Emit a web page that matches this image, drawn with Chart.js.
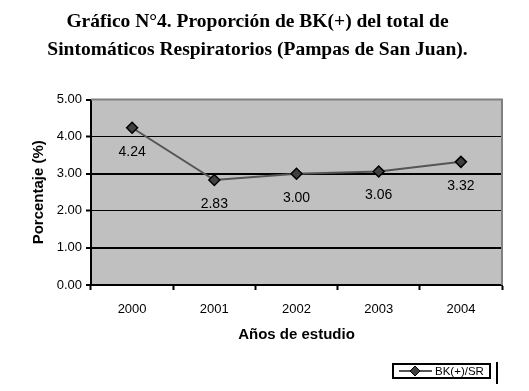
<!DOCTYPE html>
<html>
<head>
<meta charset="utf-8">
<script src="https://cdn.jsdelivr.net/npm/chart.js@4/dist/chart.umd.min.js"></script>
<style>
  html, body { margin: 0; padding: 0; background: #fff; }
  #wrap { width: 529px; height: 391px; }
</style>
</head>
<body>
<div id="wrap"><canvas id="grafico"></canvas></div>
<script>
// Datos
const anios = ['2000', '2001', '2002', '2003', '2004'];
const proporcion = [4.24, 2.83, 3.00, 3.06, 3.32];
const serieNombre = 'BK(+)/SR';
const tituloLineas = ['Gráfico N°4. Proporción de BK(+) del total de', 'Sintomáticos Respiratorios (Pampas de San Juan).'];

// fondo gris del área de trazado y borde superior/derecho
const fondoPlot = {
  id: 'fondoPlot',
  beforeDraw(chart) {
    const {ctx, chartArea: a} = chart;
    ctx.save();
    ctx.fillStyle = '#c0c0c0';
    ctx.fillRect(a.left, a.top, a.right - a.left, a.bottom - a.top);
    ctx.restore();
  },
  afterDatasetsDraw(chart) {
    const {ctx, chartArea: a} = chart;
    ctx.save();
    ctx.strokeStyle = '#808080';
    ctx.lineWidth = 2;
    ctx.beginPath();
    ctx.moveTo(a.left, a.top);
    ctx.lineTo(a.right, a.top);
    ctx.lineTo(a.right, a.bottom);
    ctx.stroke();
    ctx.restore();
  }
};

// etiquetas de valor debajo de cada punto
const etiquetas = {
  id: 'etiquetas',
  afterDatasetsDraw(chart) {
    const {ctx} = chart;
    const meta = chart.getDatasetMeta(0);
    ctx.save();
    ctx.font = '14px "Liberation Sans", Arial, sans-serif';
    ctx.fillStyle = '#000';
    ctx.textAlign = 'center';
    ctx.textBaseline = 'middle';
    meta.data.forEach((p, i) => {
      ctx.fillText(proporcion[i].toFixed(2), p.x, p.y + 24);
    });
    ctx.restore();
  }
};

// leyenda con recuadro (abajo a la derecha, como en el original)
const leyenda = {
  id: 'leyenda',
  afterDraw(chart) {
    const {ctx} = chart;
    const ds = chart.data.datasets[0];
    ctx.save();
    ctx.strokeStyle = '#000';
    ctx.lineWidth = 2;
    ctx.strokeRect(393, 364, 97, 14);
    ctx.beginPath();
    ctx.moveTo(497, 362);
    ctx.lineTo(497, 384);
    ctx.stroke();
    ctx.strokeStyle = ds.borderColor;
    ctx.beginPath();
    ctx.moveTo(399, 371);
    ctx.lineTo(432, 371);
    ctx.stroke();
    ctx.fillStyle = ds.pointBackgroundColor;
    ctx.strokeStyle = '#000';
    ctx.lineWidth = 1;
    ctx.beginPath();
    ctx.moveTo(415, 366);
    ctx.lineTo(420, 371);
    ctx.lineTo(415, 376);
    ctx.lineTo(410, 371);
    ctx.closePath();
    ctx.fill();
    ctx.stroke();
    ctx.font = '11.5px "Liberation Sans", Arial, sans-serif';
    ctx.fillStyle = '#000';
    ctx.textAlign = 'left';
    ctx.textBaseline = 'middle';
    ctx.fillText(ds.label, 435, 371.5);
    ctx.restore();
  }
};

const ctx = document.getElementById('grafico');

const grafico = new Chart(ctx, {
  type: 'line',
  data: {
    labels: anios,
    datasets: [
      {
        label: serieNombre,
        data: proporcion,
        borderColor: '#555555',
        borderWidth: 2,
        lineTension: 0,
        backgroundColor: 'transparent',
        pointStyle: 'rectRot',
        pointRadius: 5.5,
        pointBackgroundColor: '#404040',
        pointBorderColor: '#000',
        pointBorderWidth: 1.5,
      },
    ],
  },
  options: {
    responsive: true,
    maintainAspectRatio: false,
    animation: false,
    layout: {
      padding: { left: 13, right: 27, top: 0, bottom: 0 },
    },
    scales: {
      x: {
        offset: true,
        afterFit: (s) => { s.height = 106; },
        grid: {
          offset: true,
          drawOnChartArea: false,
          color: '#000',
          tickLength: 5,
          tickWidth: 2,
        },
        border: { color: '#000', width: 2 },
        ticks: {
          color: '#000',
          padding: 12,
          font: { family: '"Liberation Sans", Arial, sans-serif', size: 13 },
        },
        title: {
          display: true,
          text: 'Años de estudio',
          color: '#000',
          font: { family: '"Liberation Sans", Arial, sans-serif', size: 15, weight: 'bold' },
          padding: { top: 0, bottom: 47 },
        },
      },
      y: {
        min: 0,
        max: 5,
        afterFit: (s) => { s.width = 78; },
        grid: {
          color: '#000',
          lineWidth: (c) => {
            const v = c.tick ? c.tick.value : 0;
            if (v === 0 || v === 5) return 0;
            return (v === 1 || v === 3) ? 2 : 1;
          },
          tickLength: 5,
          tickWidth: 2,
          tickColor: '#000',
        },
        border: { color: '#000', width: 2 },
        ticks: {
          stepSize: 1,
          color: '#000',
          padding: 4,
          font: { family: '"Liberation Sans", Arial, sans-serif', size: 13 },
          callback: (v) => Number(v).toFixed(2),
        },
        title: {
          display: true,
          text: 'Porcentaje (%)',
          color: '#000',
          font: { family: '"Liberation Sans", Arial, sans-serif', size: 15, weight: 'bold' },
          padding: { top: 17, bottom: 0 },
        },
      },
    },
    plugins: {
      legend: { display: false },
      tooltip: { enabled: false },
      title: {
        display: true,
        text: tituloLineas,
        color: '#000',
        font: { family: '"Liberation Serif", "Times New Roman", serif', size: 19.5, weight: 'bold', lineHeight: 1.45 },
        padding: { top: 8, bottom: 35 },
      },
    },
  },
  plugins: [fondoPlot, etiquetas, leyenda],
});
</script>
</body>
</html>
